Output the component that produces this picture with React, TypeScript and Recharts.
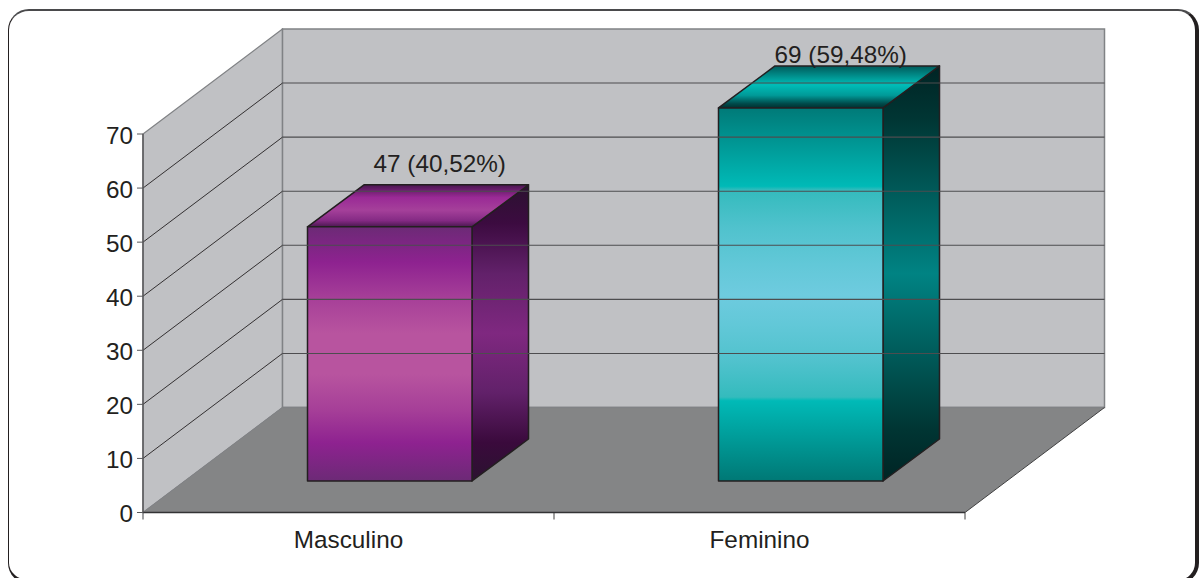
import { BarChart, Bar, XAxis, YAxis, ReferenceArea, ReferenceLine, LabelList } from 'recharts'

const categories = ['Masculino', 'Feminino']
const counts = [47, 69]
const shares = ['40,52%', '59,48%']
const yTicks = [0, 10, 20, 30, 40, 50, 60, 70]
const gridValues = [10, 20, 30, 40, 50, 60]

const rows = categories.map((name, i) => ({ name, count: counts[i], share: shares[i] }))

type Stop = [number, string]

const frontStops: Stop[][] = [
  [[0, '#6c2a76'], [0.14, '#8e2290'], [0.28, '#a63f98'], [0.42, '#b8549f'], [0.58, '#b8549f'], [0.72, '#a63f98'], [0.85, '#8e2290'], [1, '#6c2a76']],
  [[0, '#007a78'], [0.21, '#00bab7'], [0.22, '#34bbbd'], [0.32, '#50c2cd'], [0.42, '#62c8d8'], [0.5, '#6ecbdf'], [0.58, '#62c8d8'], [0.68, '#50c2cd'], [0.775, '#34bbbd'], [0.785, '#00bab7'], [1, '#007875']],
]
const sideStops: Stop[][] = [
  [[0, '#2b1230'], [0.13, '#3c0b40'], [0.3, '#62216a'], [0.5, '#7f2880'], [0.7, '#62216a'], [0.87, '#3a0a3c'], [1, '#2b1230']],
  [[0, '#002424'], [0.13, '#003634'], [0.5, '#008383'], [0.87, '#003634'], [1, '#002424']],
]
const topStops: Stop[][] = [
  [[0, '#4a1650'], [0.3, '#9a2a96'], [0.6, '#a5409a'], [0.85, '#842a84'], [1, '#4a1850']],
  [[0, '#005a5a'], [0.45, '#00bdb8'], [0.7, '#009a98'], [0.9, '#004a4a'], [1, '#003030']],
]

// the bars stand a little way back from the front edge of the floor
const inset = { x: 41.5, y: 31.5 }
const barDepth = { x: 56.5, y: 42 }
// how far the floor and back wall recede
const wallDepth = { x: 139.5, y: 105 }

const wallFill = '#c0c1c4'
const wallEdge = '#808285'
const floorFill = '#848586'
const ink = '#231f20'
const fontFamily = '"Liberation Sans", Arial, sans-serif'

// nudges for the value labels above the two bars
const labelShift = [
  { x: 50, y: 55 },
  { x: 40, y: 45 },
]

function Gradient({ id, stops }: { id: string; stops: Stop[] }) {
  return (
    <linearGradient id={id} x1="0" y1="0" x2="0" y2="1">
      {stops.map(([offset, color]) => (
        <stop key={offset} offset={offset} stopColor={color} />
      ))}
    </linearGradient>
  )
}

function Box(props: any) {
  const { x, y, width, height, index } = props
  const left = x + inset.x
  const right = left + width
  const top = y - inset.y
  const bottom = y + height - inset.y
  const { x: dx, y: dy } = barDepth
  return (
    <g stroke={ink} strokeWidth={1.5} strokeLinejoin="round">
      <defs>
        <Gradient id={`front-${index}`} stops={frontStops[index]} />
        <Gradient id={`side-${index}`} stops={sideStops[index]} />
        <Gradient id={`top-${index}`} stops={topStops[index]} />
      </defs>
      <path
        d={`M${right},${top} L${right + dx},${top - dy} L${right + dx},${bottom - dy} L${right},${bottom} Z`}
        fill={`url(#side-${index})`}
      />
      <path
        d={`M${left},${top} L${left + dx},${top - dy} L${right + dx},${top - dy} L${right},${top} Z`}
        fill={`url(#top-${index})`}
      />
      <rect x={left} y={top} width={width} height={height} fill={`url(#front-${index})`} />
    </g>
  )
}

function Walls(props: any) {
  const { x, y, width, height } = props
  const bottom = y + height
  const right = x + width
  const { x: dx, y: dy } = wallDepth
  const band = width / categories.length
  return (
    <g>
      <path
        d={`M${x},${y} L${x + dx},${y - dy} L${x + dx},${bottom - dy} L${x},${bottom} Z`}
        fill={wallFill}
        stroke={wallEdge}
        strokeWidth={1.2}
      />
      <rect x={x + dx} y={y - dy} width={width} height={height} fill={wallFill} stroke={wallEdge} strokeWidth={1.5} />
      <path
        d={`M${x},${bottom} L${x + dx},${bottom - dy} L${right + dx},${bottom - dy} L${right},${bottom} Z`}
        fill={floorFill}
      />
      <line x1={x + dx} y1={bottom - dy} x2={right + dx} y2={bottom - dy} stroke={wallEdge} strokeWidth={1.5} />
      <line x1={x} y1={bottom} x2={x + dx} y2={bottom - dy} stroke={wallEdge} strokeWidth={1} />
      <line x1={right} y1={bottom} x2={right + dx} y2={bottom - dy} stroke="#404041" strokeWidth={1} />
      {/* category boundary ticks */}
      {[0, 1, 2].map(i => (
        <line
          key={i}
          x1={x + band * i}
          y1={bottom}
          x2={x + band * i}
          y2={bottom + 7}
          stroke={i === 0 ? wallEdge : '#404041'}
          strokeWidth={i === 0 ? 1.5 : 1}
        />
      ))}
    </g>
  )
}

function WallLine(props: any) {
  const { x1, y1, x2 } = props
  const { x: dx, y: dy } = wallDepth
  return (
    <g fill="none">
      <line x1={x1} y1={y1} x2={x1 + dx} y2={y1 - dy} stroke="#231f20" strokeWidth={0.9} />
      <line x1={x1 + dx} y1={y1 - dy} x2={x2 + dx} y2={y1 - dy} stroke="#4d4d4f" strokeWidth={1.1} />
    </g>
  )
}

function BoxLabel(props: any) {
  const { x, y, width, index } = props
  const shift = labelShift[index]
  return (
    <text
      x={x + inset.x + width / 2 + shift.x}
      y={y - inset.y - shift.y}
      textAnchor="middle"
      fill={ink}
      fontFamily={fontFamily}
      fontSize={24.3}
    >
      {`${counts[index]} (${shares[index]})`}
    </text>
  )
}

export default function App() {
  return (
    <div style={{ position: 'absolute', left: 0, top: 0, width: 1199, height: 578, overflow: 'hidden', background: '#fff' }}>
      <div
        style={{
          position: 'absolute',
          left: 8,
          top: 9,
          width: 1191,
          height: 575,
          boxSizing: 'border-box',
          borderStyle: 'solid',
          borderColor: ink,
          borderTopColor: '#4a4a4c',
          borderWidth: '2px 4px 4px 1.5px',
          borderRadius: 21,
        }}
      />
      <BarChart
        width={1199}
        height={578}
        data={rows}
        margin={{ top: 134, right: 234, bottom: 25.5, left: 83 }}
        style={{ position: 'absolute', left: 0, top: 0 }}
      >
        <ReferenceArea shape={<Walls />} ifOverflow="visible" />
        {gridValues.map(v => (
          <ReferenceLine key={v} y={v} shape={<WallLine />} ifOverflow="visible" />
        ))}
        <XAxis
          dataKey="name"
          height={40}
          tickLine={false}
          tickMargin={12}
          axisLine={{ stroke: '#333335', strokeWidth: 1.5 }}
          tick={{ fill: ink, fontSize: 24.3, fontFamily }}
        />
        <YAxis
          width={60}
          domain={[0, 70]}
          ticks={yTicks}
          interval={0}
          tickSize={6}
          tickMargin={4}
          axisLine={{ stroke: '#58595b', strokeWidth: 1.5 }}
          tickLine={{ stroke: '#58595b', strokeWidth: 1 }}
          tick={{ fill: ink, fontSize: 24.3, fontFamily, dy: 1 }}
        />
        <Bar dataKey="count" barSize={164.5} shape={<Box />} isAnimationActive={false}>
          <LabelList dataKey="count" content={<BoxLabel />} />
        </Bar>
      </BarChart>
    </div>
  )
}
